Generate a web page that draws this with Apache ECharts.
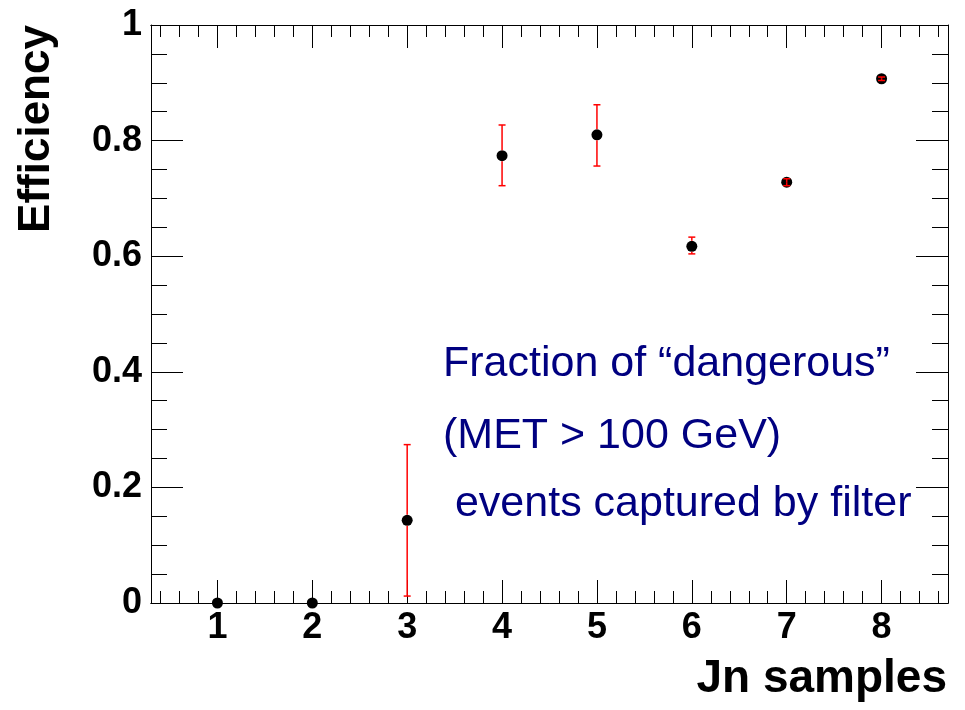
<!DOCTYPE html>
<html>
<head>
<meta charset="utf-8">
<script src="https://cdn.jsdelivr.net/npm/echarts@6/dist/echarts.min.js"></script>
<style>
  html, body { margin: 0; padding: 0; background: #fff; }
  #chart { width: 965px; height: 710px; }
</style>
</head>
<body>
<div id="chart"></div>
<script>
// Jn samples and efficiency values
const samples = [1, 2, 3, 4, 5, 6, 7, 8];
const efficiency = [0, 0, 0.143, 0.774, 0.810, 0.617, 0.728, 0.907];
const errLow = [0, 0, 0.012, 0.722, 0.756, 0.604, 0.722, 0.904];
const errHigh = [0, 0, 0.274, 0.827, 0.862, 0.633, 0.734, 0.910];
const xLabels = [1, 2, 3, 4, 5, 6, 7, 8];
const xMinor = [0.4, 0.6, 0.8, 1.2, 1.4, 1.6, 1.8, 2.2, 2.4, 2.6, 2.8, 3.2, 3.4, 3.6, 3.8,
  4.2, 4.4, 4.6, 4.8, 5.2, 5.4, 5.6, 5.8, 6.2, 6.4, 6.6, 6.8, 7.2, 7.4, 7.6, 7.8, 8.2, 8.4, 8.6];
const noteLines = ["Fraction of \u201cdangerous\u201d", "(MET > 100 GeV)", " events captured by filter"];

const FONT = "'Liberation Sans', Arial, sans-serif";
const axisLine = { show: true, lineStyle: { color: "#000", width: 1 } };

function xAxisDef(pos, ticks, len, labels) {
  return {
    type: "value",
    position: pos,
    min: 0.3,
    max: 8.7,
    axisLine: axisLine,
    splitLine: { show: false },
    axisTick: { show: true, inside: true, length: len, customValues: ticks, lineStyle: { color: "#000" } },
    axisLabel: labels
      ? { show: true, customValues: xLabels, margin: 7, color: "#000", fontFamily: FONT, fontWeight: "bold", fontSize: 36 }
      : { show: false }
  };
}

function yAxisDef(pos, labels) {
  return {
    type: "value",
    position: pos,
    min: 0,
    max: 1,
    interval: 0.2,
    axisLine: axisLine,
    splitLine: { show: false },
    axisTick: { show: true, inside: true, length: 32, lineStyle: { color: "#000" } },
    minorTick: { show: true, splitNumber: 4, length: 16, lineStyle: { color: "#000" } },
    axisLabel: labels
      ? { show: true, margin: 9, color: "#000", fontFamily: FONT, fontWeight: "bold", fontSize: 36 }
      : { show: false }
  };
}

const points = samples.map((s, i) => [s, efficiency[i]]);
const bars = samples.map((s, i) => [s, efficiency[i], errLow[i], errHigh[i]]);

const R = 5.5; // marker radius

const option = {
  animation: false,
  backgroundColor: "#fff",
  grid: { left: 151, right: 17, top: 25, bottom: 107 },
  xAxis: [
    xAxisDef("bottom", xLabels, 23, true),
    xAxisDef("bottom", xMinor, 12, false),
    xAxisDef("top", xLabels, 23, false),
    xAxisDef("top", xMinor, 12, false)
  ],
  yAxis: [yAxisDef("left", true), yAxisDef("right", false)],
  series: [
    {
      type: "scatter",
      data: points,
      symbol: "circle",
      symbolSize: R * 2,
      itemStyle: { color: "#000", opacity: 1 },
      clip: false,
      z: 2
    },
    {
      type: "custom",
      data: bars,
      clip: false,
      z: 3,
      renderItem: function(params, api) {
        if (api.value(3) - api.value(2) <= 0) {
          return null;
        }
        const c = api.coord([api.value(0), api.value(1)]);
        const lo = api.coord([api.value(0), api.value(2)]);
        const hi = api.coord([api.value(0), api.value(3)]);
        const style = { stroke: "#ff0000", lineWidth: 1.5 };
        const cap = 3.5;
        const kids = [
          { type: "line", shape: { x1: hi[0] - cap, y1: hi[1], x2: hi[0] + cap, y2: hi[1] }, style: style },
          { type: "line", shape: { x1: lo[0] - cap, y1: lo[1], x2: lo[0] + cap, y2: lo[1] }, style: style }
        ];
        // error bar goes behind the marker unless it is shorter than it
        if (c[1] - hi[1] > R) {
          kids.push({ type: "line", shape: { x1: c[0], y1: hi[1], x2: c[0], y2: c[1] - R }, style: style });
        } else {
          kids.push({ type: "line", shape: { x1: c[0], y1: hi[1], x2: c[0], y2: c[1] }, style: style });
        }
        if (lo[1] - c[1] > R) {
          kids.push({ type: "line", shape: { x1: c[0], y1: c[1] + R, x2: c[0], y2: lo[1] }, style: style });
        } else {
          kids.push({ type: "line", shape: { x1: c[0], y1: c[1], x2: c[0], y2: lo[1] }, style: style });
        }
        return { type: "group", children: kids };
      }
    }
  ],
  graphic: [
    {
      type: "text",
      x: 37,
      y: 129,
      rotation: Math.PI / 2,
      style: {
        text: "Efficiency",
        fill: "#000",
        font: "bold 44px " + FONT,
        align: "center",
        verticalAlign: "middle"
      }
    },
    {
      type: "text",
      x: 947,
      y: 702,
      style: {
        text: "Jn samples",
        fill: "#000",
        font: "bold 46px " + FONT,
        align: "right",
        verticalAlign: "bottom"
      }
    },
    {
      type: "text",
      x: 443,
      y: 386,
      style: { text: noteLines[0], fill: "#000080", font: "43px " + FONT, verticalAlign: "bottom" }
    },
    {
      type: "text",
      x: 443,
      y: 458,
      style: { text: noteLines[1], fill: "#000080", font: "43px " + FONT, verticalAlign: "bottom" }
    },
    {
      type: "text",
      x: 443,
      y: 526,
      style: { text: noteLines[2], fill: "#000080", font: "43px " + FONT, verticalAlign: "bottom" }
    }
  ]
};

const myChart = echarts.init(document.getElementById("chart"));
myChart.setOption(option);
</script>
</body>
</html>
